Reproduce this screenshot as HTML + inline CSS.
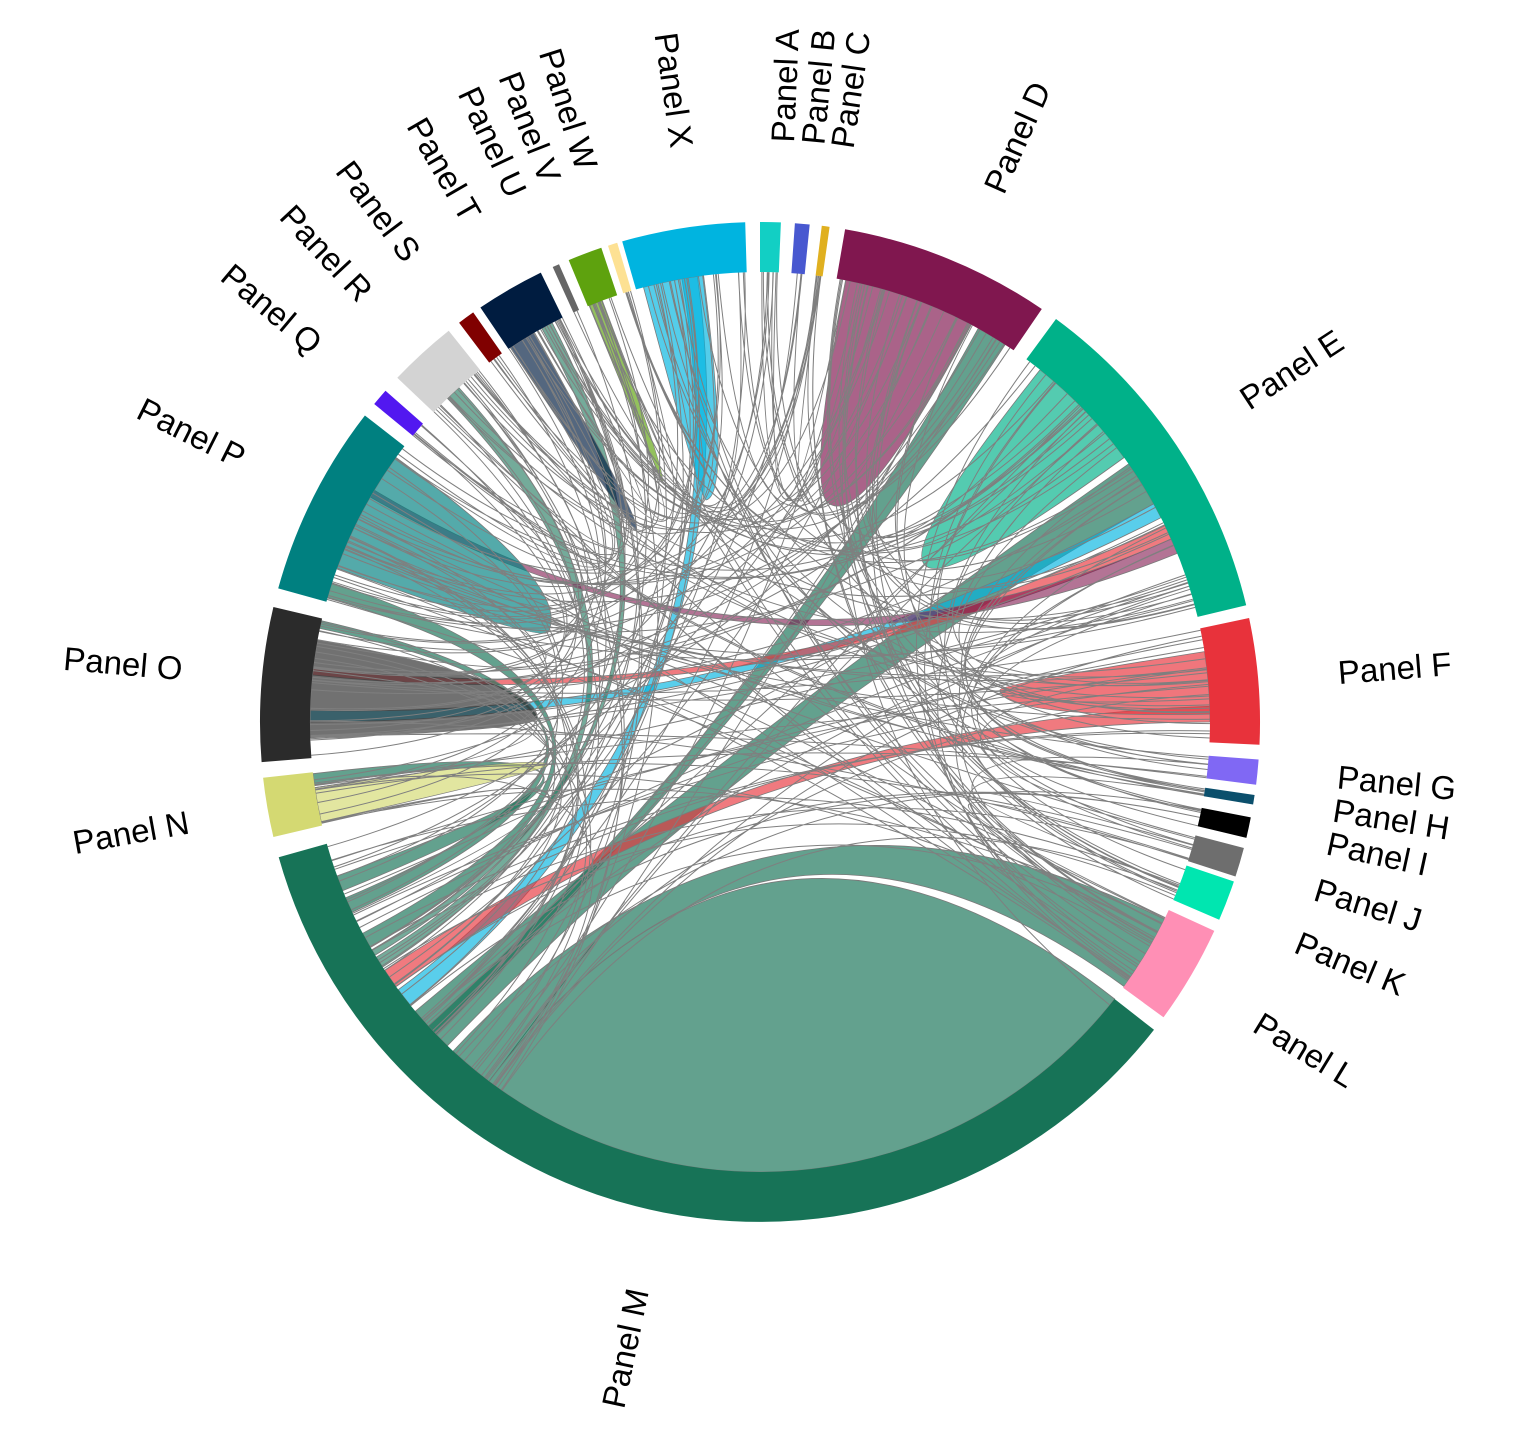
<!DOCTYPE html>
<html><head><meta charset="utf-8"><style>
html,body{margin:0;padding:0;background:#fff;}
svg{display:block;}
text{font-family:"Liberation Sans",Arial,sans-serif;font-size:33px;fill:#000;}
</style></head><body>
<svg id="s" width="1534" height="1446" viewBox="0 0 1534 1446" xmlns="http://www.w3.org/2000/svg">
<g id="links"></g>
<g id="segs"></g>
<g id="labels">
<text transform="translate(760,722) rotate(-87.5) translate(580,0)" dominant-baseline="middle">Panel A</text>
<text transform="translate(760,722) rotate(-84.5) translate(580,0)" dominant-baseline="middle">Panel B</text>
<text transform="translate(760,722) rotate(-81.6) translate(580,0)" dominant-baseline="middle">Panel C</text>
<text transform="translate(760,722) rotate(-66) translate(580,0)" dominant-baseline="middle">Panel D</text>
<text transform="translate(760,722) rotate(-33.3) translate(580,0)" dominant-baseline="middle">Panel E</text>
<text transform="translate(760,722) rotate(-4.6) translate(580,0)" dominant-baseline="middle">Panel F</text>
<text transform="translate(760,722) rotate(5.7) translate(580,0)" dominant-baseline="middle">Panel G</text>
<text transform="translate(760,722) rotate(9) translate(580,0)" dominant-baseline="middle">Panel H</text>
<text transform="translate(760,722) rotate(12.3) translate(580,0)" dominant-baseline="middle">Panel I</text>
<text transform="translate(760,722) rotate(17) translate(580,0)" dominant-baseline="middle">Panel J</text>
<text transform="translate(760,722) rotate(22.5) translate(580,0)" dominant-baseline="middle">Panel K</text>
<text transform="translate(760,722) rotate(31.3) translate(580,0)" dominant-baseline="middle">Panel L</text>
<text transform="translate(760,722) rotate(281.9) translate(-580,0)" text-anchor="end" dominant-baseline="middle">Panel M</text>
<text transform="translate(760,722) rotate(349.8) translate(-580,0)" text-anchor="end" dominant-baseline="middle">Panel N</text>
<text transform="translate(760,722) rotate(365) translate(-580,0)" text-anchor="end" dominant-baseline="middle">Panel O</text>
<text transform="translate(760,722) rotate(386.7) translate(-580,0)" text-anchor="end" dominant-baseline="middle">Panel P</text>
<text transform="translate(760,722) rotate(400) translate(-580,0)" text-anchor="end" dominant-baseline="middle">Panel Q</text>
<text transform="translate(760,722) rotate(407) translate(-580,0)" text-anchor="end" dominant-baseline="middle">Panel R</text>
<text transform="translate(760,722) rotate(413) translate(-580,0)" text-anchor="end" dominant-baseline="middle">Panel S</text>
<text transform="translate(760,722) rotate(420) translate(-580,0)" text-anchor="end" dominant-baseline="middle">Panel T</text>
<text transform="translate(760,722) rotate(425) translate(-580,0)" text-anchor="end" dominant-baseline="middle">Panel U</text>
<text transform="translate(760,722) rotate(428.6) translate(-580,0)" text-anchor="end" dominant-baseline="middle">Panel V</text>
<text transform="translate(760,722) rotate(432.4) translate(-580,0)" text-anchor="end" dominant-baseline="middle">Panel W</text>
<text transform="translate(760,722) rotate(442) translate(-580,0)" text-anchor="end" dominant-baseline="middle">Panel X</text>
</g>
</svg>
<script>
(function(){
var NS="http://www.w3.org/2000/svg",RI=450,RO=500,CX=760,CY=722;
function P(a,r){var t=a*Math.PI/180;return [(CX+r*Math.sin(t)).toFixed(1),(CY-r*Math.cos(t)).toFixed(1)];}
function s(p){return p[0]+" "+p[1];}
function add(g,d,fill,op,stroke,sw){var e=document.createElementNS(NS,"path");e.setAttribute("d",d);e.setAttribute("fill",fill);if(op!=null)e.setAttribute("fill-opacity",op);e.setAttribute("stroke",stroke||"none");if(sw)e.setAttribute("stroke-width",sw);document.getElementById(g).appendChild(e);}
var segs=[
[0,2.4,"#12cfc4"],[4,5.7,"#4858d0"],[7.1,8,"#e0b020"],[9.8,34.3,"#80174f"],[36.3,76.5,"#00b189"],
[78,92.6,"#e8323b"],[94.3,97.2,"#8068f4"],[98.4,99.5,"#0b4f6c"],[101,103.4,"#000000"],[104.6,108,"#6e6e6e"],
[108.6,113.3,"#00e6b0"],[114.7,126.2,"#ff8fb5"],[128,254.3,"#177357"],[256.7,263.6,"#d4d972"],[265.4,283.3,"#2b2b2b"],
[285.5,307.8,"#008080"],[309.5,311.5,"#5218f0"],[313.5,321.5,"#d3d3d3"],[323,325,"#800000"],[326,334,"#001c40"],
[335.5,336.3,"#666666"],[337.5,341.5,"#5ea20e"],[342.3,343.4,"#fde193"],[344,358.3,"#00b4e0"]];
segs.forEach(function(g){var a=g[0],b=g[1],l=(b-a)>180?1:0;
add("segs","M"+s(P(a,RO))+"A"+RO+" "+RO+" 0 "+l+" 1 "+s(P(b,RO))+"L"+s(P(b,RI))+"A"+RI+" "+RI+" 0 "+l+" 0 "+s(P(a,RI))+"Z",g[2]);});
function rib(a1,a2,b1,b2,col,op){var l1=(a2-a1)>180?1:0,l2=(b2-b1)>180?1:0;
add("links","M"+s(P(a1,RI))+"A"+RI+" "+RI+" 0 "+l1+" 1 "+s(P(a2,RI))+"Q"+CX+" "+CY+" "+s(P(b1,RI))+"A"+RI+" "+RI+" 0 "+l2+" 1 "+s(P(b2,RI))+"Q"+CX+" "+CY+" "+s(P(a1,RI))+"Z",col,op==null?0.65:op,"#7a7a7a",0.8);}
function lobe(a1,a2,tx,ty,col){var d=Math.hypot(tx-CX,ty-CY);var c2=P(a2,d),c1=P(a1,d);
add("links","M"+s(P(a1,RI))+"A"+RI+" "+RI+" 0 0 1 "+s(P(a2,RI))+"Q"+s(c2)+" "+tx+" "+ty+"Q"+s(c1)+" "+s(P(a1,RI))+"Z",col,0.67,"#7a7a7a",0.8);}
var seed=12345;function R(){seed=(seed*16807)%2147483647;return (seed-1)/2147483646;}
var G="#177357";
var w=segs.map(function(g){return g[1]-g[0];});
var tot=w.reduce(function(a,b){return a+b;},0);
function pick(){var r=R()*tot;for(var i=0;i<segs.length;i++){r-=w[i];if(r<=0)return i;}return segs.length-1;}
function ang(i){var g=segs[i];var a=g[0]+0.05+(g[1]-g[0]-0.1)*R();if(i==12){a=128+R()*(254-128);if(a>130&&a<215)a=215+R()*39;}return a;}
var gl=[];
for(var k=0;k<260;k++){var i=pick(),j=pick();
 if(i==12&&R()<0.6) i=Math.floor(R()*24);
 if(j==12&&R()<0.6) j=Math.floor(R()*24);
 if(i==j)continue;var a=ang(i),b=ang(j);
 gl.push("M"+s(P(a,RI))+"Q"+CX+" "+CY+" "+s(P(b,RI)));}
rib(128,217,217,217.01,G,0.67);
rib(116,126,217,223,G,0.67);
rib(55,61,224,230,G,0.67);
rib(29,33,226,227.5,G,0.67);
rib(350,352,231,233.5,"#00b4e0",0.65);
rib(61,63,270,271.5,"#00b4e0",0.65);
rib(88,90,234,236.5,"#e8323b",0.65);
rib(64,66,276,277,"#e8323b",0.65);
rib(286,288,240,242,G,0.67);
rib(282,283,245,247,G,0.67);
rib(262,263.4,248,250,G,0.67);
rib(316,318,237,238.5,G,0.6);
rib(331,332.5,238.8,239.6,G,0.6);
rib(66,68,300,301,"#80174f",0.6);
lobe(38.5,54,925,565,"#00b189");
lobe(11,28,832,505,"#80174f");
lobe(290,306,548,632,"#008080");
lobe(268,280.5,537,718,"#2b2b2b");
lobe(257.2,261.6,548,765,"#d4d972");
lobe(345,352.8,706,500,"#00b4e0");
lobe(81,89,1000,690,"#e8323b");
lobe(326.3,329.8,636,530,"#001c40");
lobe(337.7,339.4,662,482,"#5ea20e");
var e=document.createElementNS(NS,"path");e.setAttribute("d",gl.join(""));e.setAttribute("fill","none");e.setAttribute("stroke","#7f7f7f");e.setAttribute("stroke-width","1");
document.getElementById("links").appendChild(e);
})();
</script>
</body></html>
